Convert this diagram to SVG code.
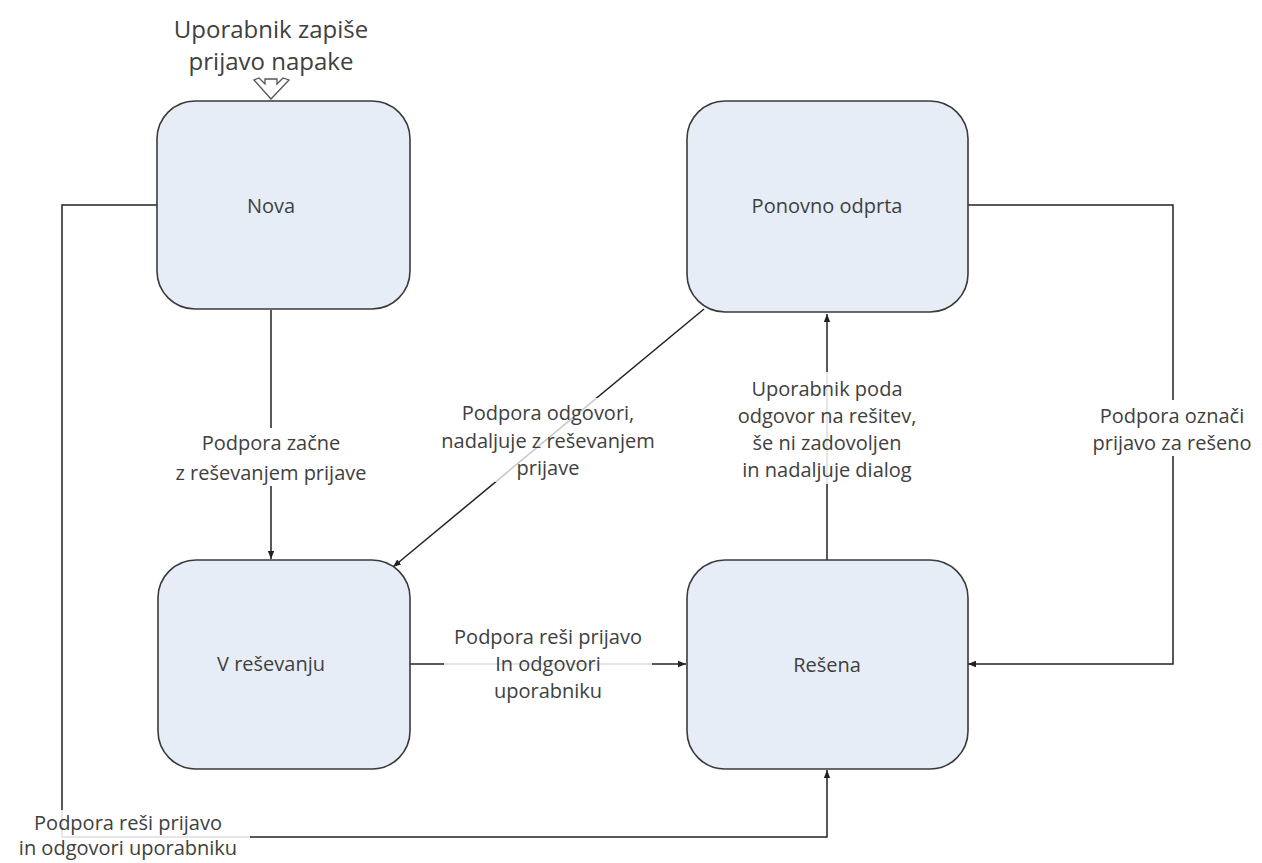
<svg xmlns="http://www.w3.org/2000/svg" width="1262" height="863" viewBox="0 0 1262 863">
<style>
.box{fill:#e7edf7;stroke:#3a3a3a;stroke-width:1.6}
.t{font-family:"Open Sans","Liberation Sans",sans-serif;fill:#404040;text-anchor:middle}
.n{font-size:20px}
.l{font-size:20px}
.c{fill:none;stroke:#222;stroke-width:1.5}
.bg{fill:#fff}
</style>
<defs>
<marker id="ah" viewBox="0 0 10 10" refX="10" refY="5" markerWidth="8" markerHeight="8" markerUnits="userSpaceOnUse" orient="auto">
<path d="M0,1 L10,5 L0,9 Z" fill="#222"/>
</marker>
</defs>
<rect width="1262" height="863" fill="#fff"/>
<g id="connectors">
<path class="c" d="M271,310 V559" marker-end="url(#ah)"/>
<path class="c" d="M704,309 L393,567" marker-end="url(#ah)"/>
<path class="c" d="M410,664 H686" marker-end="url(#ah)"/>
<path class="c" d="M827,560 V314" marker-end="url(#ah)"/>
<path class="c" d="M968,205 H1173 V664 H968" marker-end="url(#ah)"/>
<path class="c" d="M157,205 H62 V837 H827 V770" marker-end="url(#ah)"/>
</g>
<g id="start">
<text class="t" x="271" y="38" font-size="24">Uporabnik zapiše</text>
<text class="t" x="271" y="70" font-size="24">prijavo napake</text>
<path d="M254,80 L271,99 L289,80 L283,78 L277,84 V79 H265 V84 L259,78 Z" fill="#fff" stroke="#555" stroke-width="1.3"/>
</g>
<g id="nova">
<rect class="box" x="157" y="101" width="253" height="208" rx="38"/>
<text class="t n" x="271" y="213">Nova</text>
</g>
<g id="ponovno">
<rect class="box" x="687" y="101" width="281" height="211" rx="38"/>
<text class="t n" x="827" y="213">Ponovno odprta</text>
</g>
<g id="vresevanju">
<rect class="box" x="158" y="560" width="252" height="209" rx="38"/>
<text class="t n" x="271" y="671">V reševanju</text>
</g>
<g id="resena">
<rect class="box" x="687" y="560" width="281" height="209" rx="38"/>
<text class="t n" x="827" y="672">Rešena</text>
</g>
<g id="labels">
<rect class="bg" x="194" y="428" width="154" height="58"/>
<text class="t l" x="271" y="450">Podpora začne</text>
<text class="t l" x="271" y="480">z reševanjem prijave</text>
<rect class="bg" x="430" y="398" width="238" height="84" opacity="0.75"/>
<text class="t l" x="548" y="420">Podpora odgovori,</text>
<text class="t l" x="548" y="448">nadaljuje z reševanjem</text>
<text class="t l" x="548" y="475">prijave</text>
<rect class="bg" x="444" y="622" width="208" height="84" opacity="0.85"/>
<text class="t l" x="548" y="644">Podpora reši prijavo</text>
<text class="t l" x="548" y="671">In odgovori</text>
<text class="t l" x="548" y="698">uporabniku</text>
<rect class="bg" x="733" y="372" width="188" height="112" opacity="0.85"/>
<text class="t l" x="827" y="396">Uporabnik poda</text>
<text class="t l" x="827" y="423">odgovor na rešitev,</text>
<text class="t l" x="827" y="450">še ni zadovoljen</text>
<text class="t l" x="827" y="477">in nadaljuje dialog</text>
<rect class="bg" x="1092" y="400" width="162" height="56"/>
<text class="t l" x="1172" y="423">Podpora označi</text>
<text class="t l" x="1172" y="450">prijavo za rešeno</text>
<rect class="bg" x="8" y="810" width="242" height="53" opacity="0.85"/>
<text class="t l" x="128" y="830">Podpora reši prijavo</text>
<text class="t l" x="128" y="855">in odgovori uporabniku</text>
</g>
</svg>
